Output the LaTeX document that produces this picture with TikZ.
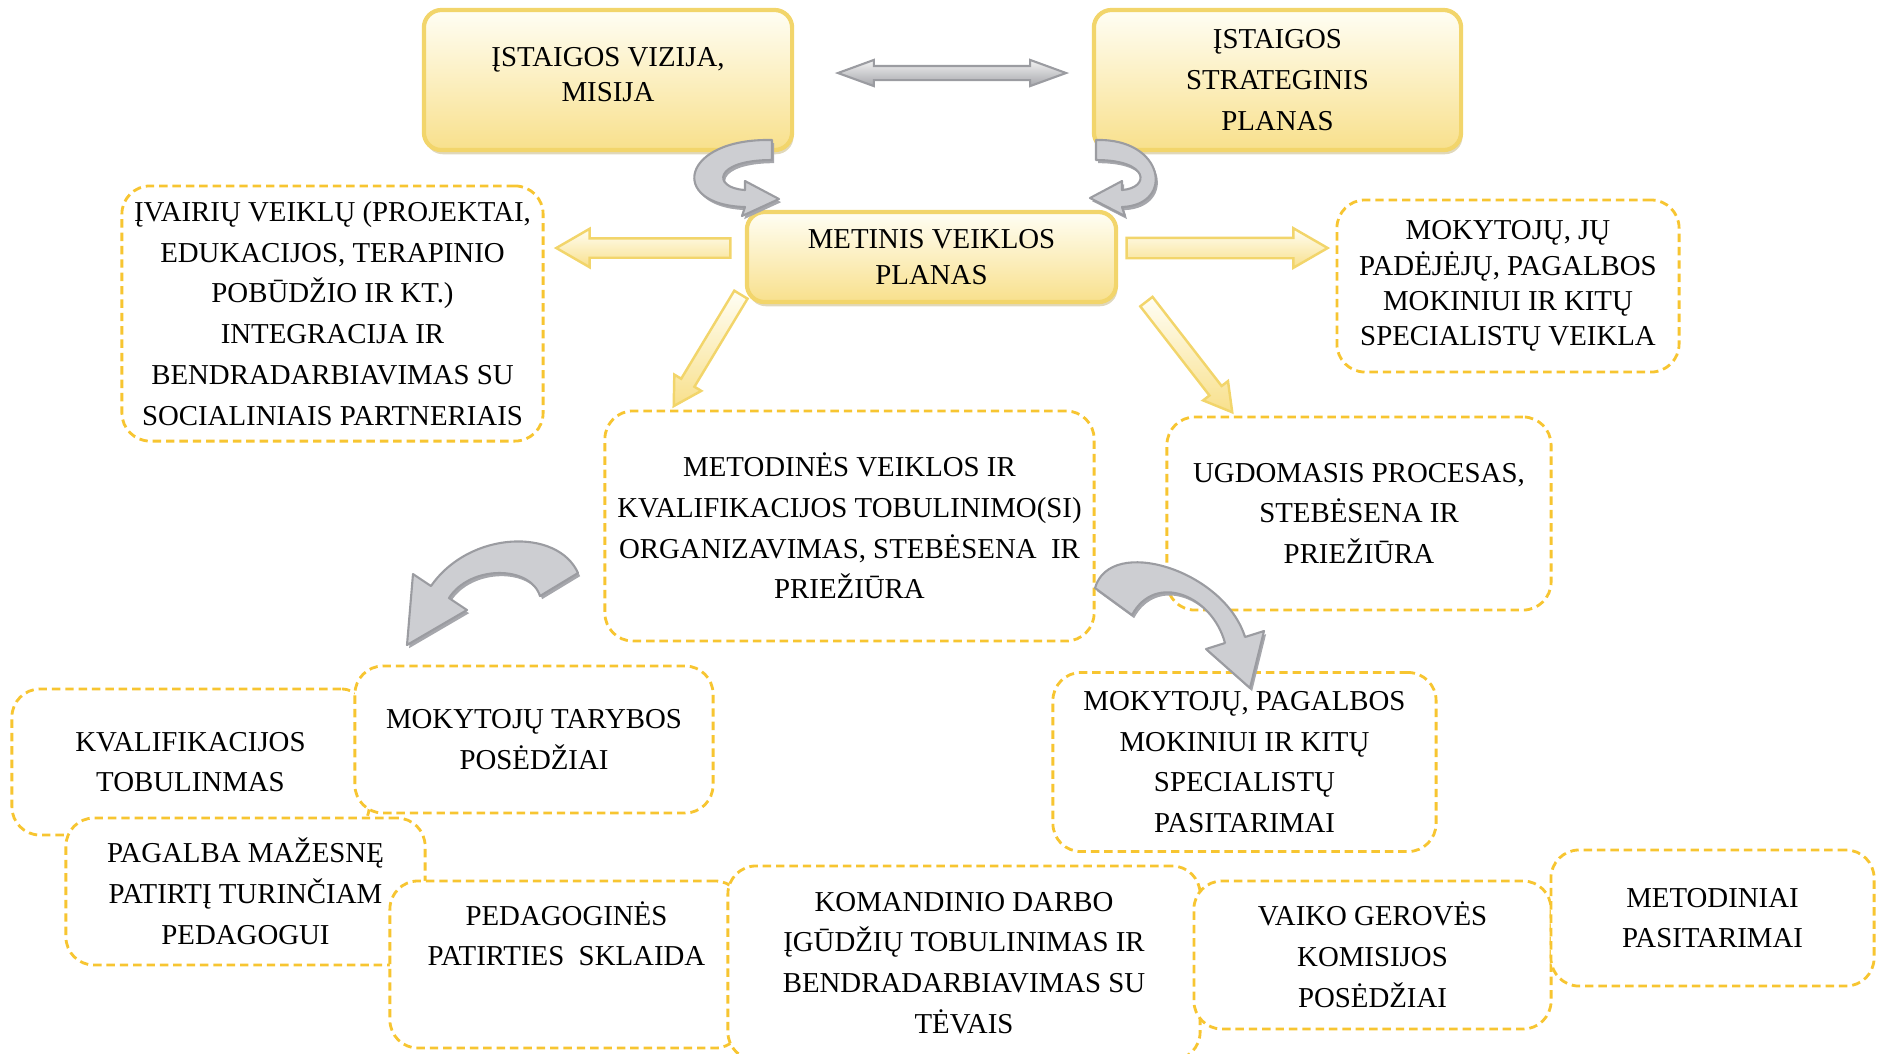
\documentclass[tikz,border=0pt]{standalone}
\usepackage{fontspec}
\setmainfont{Liberation Serif}
\usepackage{tikz}
\usetikzlibrary{shapes.arrows,shadows,calc,positioning}
\definecolor{topedge}{HTML}{F2D56B}
\definecolor{toplight}{HTML}{FFFEF4}
\definecolor{topdark}{HTML}{F8E08C}
\definecolor{dashedge}{HTML}{F7C531}
\definecolor{grayfill}{HTML}{CDCED2}
\definecolor{grayedge}{HTML}{9B9CA1}
\definecolor{grayside}{HTML}{A6A7AC}

\begin{document}
\begin{tikzpicture}[x=0.01cm,y=-0.01cm,font=\fontsize{8.2}{11.6}\selectfont]
	\tikzstyle{topbox} = [rectangle,rounded corners=5pt,draw=topedge,line width=1.2pt,top color=toplight,bottom color=topdark,align=center,inner sep=0,drop shadow={shadow xshift=0.4pt,shadow yshift=-1.2pt,fill=topdark!75!black,opacity=0.45}]
	\tikzstyle{dbox} = [rectangle,rounded corners=8pt,draw=dashedge,dash pattern=on 2.4pt off 1.4pt,line width=0.8pt,fill=white,align=center,inner sep=0]
	\tikzstyle{yarrow} = [single arrow,draw=topedge,line width=0.7pt,top color=toplight,bottom color=topdark,inner xsep=0,single arrow tip angle=60]
	\tikzstyle{garrow} = [double arrow,draw=grayedge,line width=0.6pt,top color=gray!10,bottom color=grayside,inner xsep=0,double arrow tip angle=40]
	\tikzstyle{ribbon} = [fill=grayfill,draw=grayedge,line width=0.6pt,line join=round,drop shadow={shadow xshift=0.6pt,shadow yshift=-0.9pt,fill=grayside,opacity=1}]
	\tikzstyle{small} = [font=\fontsize{8.2}{10}\selectfont]
	\useasboundingbox (0,0) rectangle (1878,1053);
	\clip (0,0) rectangle (1878,1053);
	
	% dashed boxes
	\node [dbox,minimum width=4.21cm,minimum height=2.55cm] (veikl) at (332.5,313.5) {ĮVAIRIŲ VEIKLŲ (PROJEKTAI,\\EDUKACIJOS, TERAPINIO\\POBŪDŽIO IR KT.)\\INTEGRACIJA IR\\BENDRADARBIAVIMAS SU\\SOCIALINIAIS PARTNERIAIS};
	\node [dbox,small,minimum width=3.42cm,minimum height=1.72cm] (spec) at (1508,286) {MOKYTOJŲ, JŲ\\PADĖJĖJŲ, PAGALBOS\\MOKINIUI IR KITŲ\\SPECIALISTŲ VEIKLA};
	\node [dbox,minimum width=4.89cm,minimum height=2.30cm] (metod) at (849.5,526) {METODINĖS VEIKLOS IR\\KVALIFIKACIJOS TOBULINIMO(SI)\\ORGANIZAVIMAS, STEBĖSENA\ \ IR\\PRIEŽIŪRA};
	\node [dbox,minimum width=3.84cm,minimum height=1.93cm] (ugd) at (1359,513.5) {UGDOMASIS PROCESAS,\\STEBĖSENA IR\\PRIEŽIŪRA};
	\node [dbox,minimum width=3.83cm,minimum height=1.79cm] (pasit) at (1244.5,762) {MOKYTOJŲ, PAGALBOS\\MOKINIUI IR KITŲ\\SPECIALISTŲ\\PASITARIMAI};
	
	\node [dbox,minimum width=3.57cm,minimum height=1.46cm] (kval) at (190.5,762) {KVALIFIKACIJOS\\TOBULINMAS};
	\node [dbox,minimum width=3.58cm,minimum height=1.47cm] (taryb) at (534,739.5) {MOKYTOJŲ TARYBOS\\POSĖDŽIAI};
	\node [dbox,minimum width=3.59cm,minimum height=1.47cm] (pagalb) at (245.5,891.5) {PAGALBA MAŽESNĘ\\PATIRTĮ TURINČIAM\\PEDAGOGUI};
	\node [dbox,minimum width=3.53cm,minimum height=1.67cm] (pedag) at (566.5,964.5) {PEDAGOGINĖS\\PATIRTIES\ \ SKLAIDA\\[6pt]\mbox{}};
	\node [dbox,minimum width=4.72cm,minimum height=1.94cm] (komand) at (964,963) {KOMANDINIO DARBO\\ĮGŪDŽIŲ TOBULINIMAS IR\\BENDRADARBIAVIMAS SU\\TĖVAIS};
	\node [dbox,minimum width=3.57cm,minimum height=1.48cm] (vaiko) at (1372.5,955) {VAIKO GEROVĖS\\KOMISIJOS\\POSĖDŽIAI};
	\node [dbox,minimum width=3.23cm,minimum height=1.36cm] (metp) at (1712.5,918) {METODINIAI\\PASITARIMAI};
	
	% yellow boxes
	\node [topbox,small,minimum width=3.68cm,minimum height=1.40cm] (vizija) at (608,80) {ĮSTAIGOS VIZIJA,\\MISIJA\\[-7pt]\mbox{}};
	\node [topbox,minimum width=3.67cm,minimum height=1.40cm] (strat) at (1277.5,80) {ĮSTAIGOS\\STRATEGINIS\\PLANAS};
	\node [topbox,small,minimum width=3.69cm,minimum height=0.90cm] (plan) at (931.5,257) {METINIS VEIKLOS\\PLANAS};
	
	% block arrows
	\node [garrow,minimum height=2.28cm,inner ysep=0.06cm,double arrow head extend=0.06cm] (dbl) at ($(vizija.east)!0.5!(strat.west)+(9,-7)$) {};
	\node [yarrow,shape border rotate=180,minimum height=1.74cm,inner ysep=0.085cm,single arrow head extend=0.095cm] (arL) at ($(plan.west)+(-93,-9)$) {};
	\node [yarrow,minimum height=2.01cm,inner ysep=0.09cm,single arrow head extend=0.095cm] (arR) at ($(plan.east)+(100,-9)$) {};
	\node [yarrow,rotate=238.9,minimum height=1.30cm,inner ysep=0.065cm,single arrow head extend=0.08cm] (dgL) at ($(plan.south west)+(-34,40.5)$) {};
	\node [yarrow,rotate=-52.2,minimum height=1.40cm,inner ysep=0.065cm,single arrow head extend=0.08cm] (dgR) at ($(plan.south east)+(67,47.5)$) {};
	
	% curved arrows
	\draw [ribbon] (772,140) .. controls (680,138) and (668,205) .. (745,207) -- (742,216) -- (779,199) -- (745,181) -- (745,190) .. controls (712,188) and (713,160) .. (772,160) -- cycle;
	\draw [ribbon] (1096,140) .. controls (1165,138) and (1175,205) .. (1122,207) -- (1125,216) -- (1090,198) -- (1122,181) -- (1122,190) .. controls (1150,188) and (1150,160) .. (1096,160) -- cycle;
	\draw [ribbon] (578,573) .. controls (558,528) and (470,530) .. (431,586) -- (413,574) -- (407,645) -- (467,610) -- (449,598) .. controls (470,565) and (530,565) .. (540,596) -- cycle;
	\draw [ribbon] (1095,588) .. controls (1110,535) and (1224,570) .. (1245,637) -- (1264,631) -- (1250,688) -- (1206,649) -- (1225,643) .. controls (1212,595) and (1155,572) .. (1132,615) -- cycle;
\end{tikzpicture}
\end{document}
